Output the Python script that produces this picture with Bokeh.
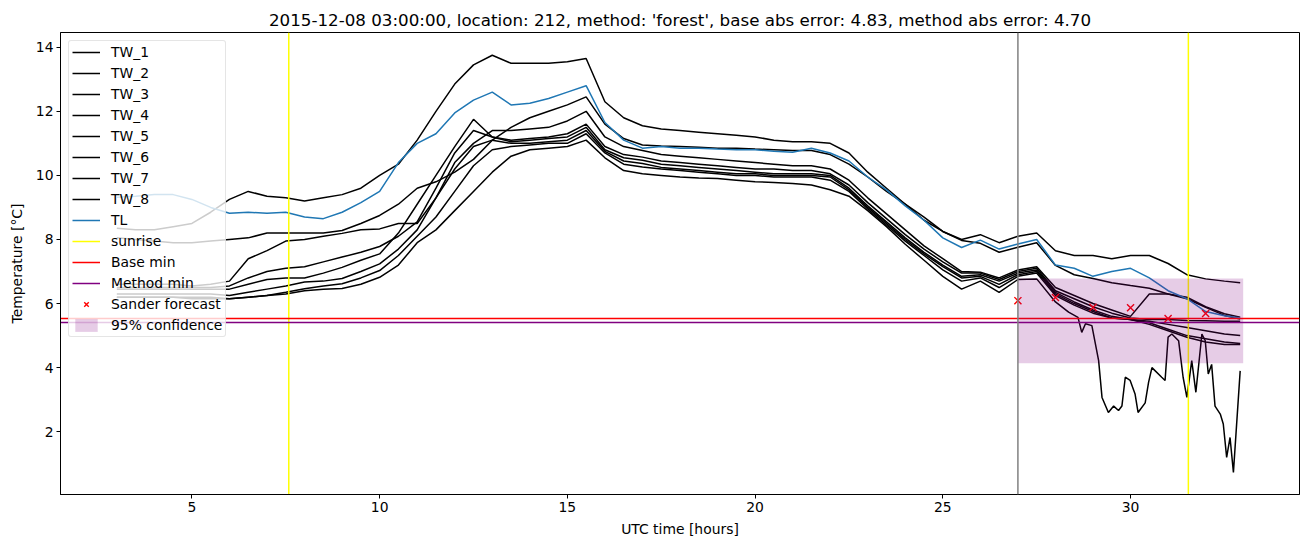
from bokeh.plotting import figure
from bokeh.models import Span, Legend, LegendItem, FixedTicker, Range1d
from bokeh.embed import file_html
from bokeh.resources import INLINE

# ---------------- data ----------------
hours = [3.0, 3.5, 4.0, 4.5, 5.0, 5.5, 6.0, 6.5, 7.0, 7.5, 8.0, 8.5, 9.0, 9.5, 10.0, 10.5,
         11.0, 11.5, 12.0, 12.5, 13.0, 13.5, 14.0, 14.5, 15.0, 15.5, 16.0, 16.5, 17.0, 17.5,
         18.0, 18.5, 19.0, 19.5, 20.0, 20.5, 21.0, 21.5, 22.0, 22.5, 23.0, 23.5, 24.0, 24.5,
         25.0, 25.5, 26.0, 26.5, 27.0, 27.5, 28.0, 28.5, 29.0, 29.5, 30.0, 30.5, 31.0, 31.5,
         32.0, 32.5, 32.92]

tw_1 = [8.35, 8.3, 8.3, 8.4, 8.5, 8.85, 9.25, 9.5, 9.35, 9.3, 9.2, 9.3, 9.4, 9.6, 10.0, 10.35,
        11.1, 12.0, 12.85, 13.45, 13.75, 13.5, 13.5, 13.5, 13.55, 13.65, 12.3, 11.8, 11.55, 11.45,
        11.4, 11.35, 11.3, 11.25, 11.2, 11.1, 11.05, 11.05, 11.0, 10.7, 10.1, 9.6, 9.1, 8.6,
        8.25, 8.0, 8.15, 7.9, 8.1, 8.2, 7.65, 7.5, 7.5, 7.4, 7.5, 7.5, 7.25, 6.9,
        6.77, 6.7, 6.65]

tw_2 = [8.05, 8.0, 7.95, 7.9, 7.9, 7.95, 8.0, 8.05, 8.2, 8.2, 8.2, 8.2, 8.28, 8.5, 8.75, 9.1,
        9.6, 9.8, 10.1, 10.5, 11.1, 11.5, 11.8, 12.0, 12.2, 12.45, 11.6, 11.15, 10.95, 10.92,
        10.9, 10.88, 10.85, 10.85, 10.82, 10.8, 10.78, 10.78, 10.65, 10.35, 9.95, 9.5, 9.1, 8.7,
        8.25, 7.97, 7.88, 7.6, 7.76, 7.9, 7.19, 6.9, 6.78, 6.65, 6.56, 6.48, 6.3, 6.2,
        5.9, 5.68, 5.57]

tw_3 = [6.6, 6.6, 6.6, 6.6, 6.55, 6.6, 6.7, 7.4, 7.65, 7.95, 8.0, 8.1, 8.19, 8.3, 8.33, 8.5,
        8.5, 9.3, 10.4, 11.0, 11.4, 11.4, 11.45, 11.5, 11.7, 12.0, 11.2, 10.9, 10.78, 10.65,
        10.6, 10.55, 10.5, 10.45, 10.4, 10.35, 10.3, 10.3, 10.2, 9.85, 9.3, 8.8, 8.3, 7.8,
        7.4, 7.0, 6.98, 6.8, 7.05, 7.15, 6.5, 6.25, 6.0, 5.8, 5.6, 6.3, 6.3, 6.15,
        5.88, 5.63, 5.52]

tw_4 = [6.5, 6.5, 6.5, 6.5, 6.5, 6.5, 6.55, 6.8, 7.0, 7.1, 7.15, 7.3, 7.45, 7.6, 7.78, 8.1,
        8.55, 9.6, 10.7, 11.4, 11.2, 11.1, 11.15, 11.2, 11.3, 11.6, 10.9, 10.65, 10.57, 10.45,
        10.4, 10.35, 10.3, 10.25, 10.2, 10.2, 10.15, 10.15, 10.05, 9.7, 9.15, 8.65, 8.15, 7.7,
        7.3, 6.95, 6.95, 6.75, 7.0, 7.1, 6.4, 6.15, 5.9, 5.7, 5.55, 5.5, 5.5, 5.47,
        5.46, 5.45, 5.45]

tw_5 = [6.45, 6.45, 6.45, 6.45, 6.45, 6.45, 6.45, 6.6, 6.75, 6.8, 6.8, 6.95, 7.13, 7.35, 7.55, 8.2,
        9.1, 10.0, 10.9, 11.75, 11.2, 11.05, 11.1, 11.15, 11.2, 11.5, 10.8, 10.55, 10.47, 10.35,
        10.3, 10.25, 10.2, 10.15, 10.1, 10.05, 10.05, 10.05, 10.0, 9.6, 9.05, 8.55, 8.05, 7.6,
        7.2, 6.85, 6.9, 6.7, 6.95, 7.05, 6.35, 6.05, 5.8, 5.6, 5.5, 5.45, 5.35, 5.25,
        5.15, 5.05, 5.0]

tw_6 = [6.3, 6.3, 6.3, 6.3, 6.3, 6.3, 6.25, 6.35, 6.45, 6.55, 6.67, 6.7, 6.78, 7.0, 7.24, 7.7,
        8.3, 9.3, 10.2, 10.9, 11.1, 11.0, 11.0, 11.05, 11.1, 11.4, 10.75, 10.45, 10.37, 10.25,
        10.2, 10.15, 10.1, 10.05, 10.05, 10.0, 10.0, 10.0, 9.95, 9.55, 9.0, 8.5, 8.0, 7.55,
        7.15, 6.8, 6.85, 6.6, 6.9, 7.0, 6.3, 6.0, 5.75, 5.55, 5.5, 5.4, 5.2, 5.0,
        4.9, 4.8, 4.75]

tw_7 = [6.2, 6.2, 6.2, 6.2, 6.2, 6.2, 6.15, 6.2, 6.25, 6.35, 6.46, 6.55, 6.62, 6.8, 7.03, 7.5,
        8.1, 8.7, 9.5, 10.3, 10.8, 10.9, 10.95, 11.0, 11.0, 11.3, 10.7, 10.35, 10.26, 10.2,
        10.15, 10.1, 10.05, 10.0, 10.0, 9.95, 9.95, 9.95, 9.85, 9.5, 8.95, 8.45, 7.95, 7.5,
        7.05, 6.7, 6.8, 6.5, 6.85, 6.95, 6.25, 5.95, 5.7, 5.55, 5.5, 5.35, 5.15, 4.95,
        4.8, 4.72, 4.72]

# TW_8: same half-hour grid up to 28 h, then a finer, noisy tail
tw_8_head = [6.2, 6.2, 6.2, 6.2, 6.15, 6.15, 6.15, 6.2, 6.25, 6.3, 6.4, 6.45, 6.47, 6.6, 6.82, 7.2,
             7.9, 8.3, 8.9, 9.5, 10.1, 10.6, 10.8, 10.85, 10.9, 11.1, 10.55, 10.15, 10.05, 10.0,
             9.95, 9.92, 9.9, 9.85, 9.8, 9.78, 9.75, 9.7, 9.55, 9.35, 8.9, 8.4, 7.85, 7.35,
             6.85, 6.45, 6.7, 6.35, 6.75, 6.77, 6.05]
tw_8_tail_hours = [28.35, 28.6, 28.7, 28.8, 28.97, 29.15, 29.24, 29.41, 29.55, 29.68, 29.77,
                   29.86, 29.99, 30.12, 30.2, 30.39, 30.48, 30.57, 30.83, 30.92, 31.0, 31.1,
                   31.28, 31.4, 31.5, 31.63, 31.74, 31.9, 31.99, 32.07, 32.16, 32.25, 32.39,
                   32.47, 32.56, 32.65, 32.74, 32.92]
tw_8_tail = [5.73, 5.57, 5.1, 5.37, 5.31, 4.22, 3.07, 2.6, 2.8, 2.66, 2.8,
             3.7, 3.6, 3.18, 2.6, 2.9, 3.54, 4.0, 3.7, 3.6, 4.95, 5.05,
             4.84, 3.7, 3.07, 4.22, 3.23, 5.05, 4.84, 3.8, 4.1, 2.8, 2.55,
             2.24, 1.2, 1.82, 0.73, 3.9]

tl = [9.32, 9.35, 9.4, 9.4, 9.25, 9.0, 8.82, 8.85, 8.82, 8.85, 8.7, 8.65, 8.85, 9.15, 9.5, 10.4,
      11.0, 11.3, 11.95, 12.35, 12.6, 12.2, 12.25, 12.4, 12.6, 12.8, 11.65, 11.1, 10.85, 10.9,
      10.85, 10.85, 10.82, 10.8, 10.8, 10.75, 10.72, 10.85, 10.7, 10.45, 9.95, 9.55, 9.05, 8.6,
      8.05, 7.75, 7.98, 7.7, 7.86, 8.0, 7.2, 7.1, 6.85, 7.0, 7.1, 6.8, 6.4, 6.15,
      5.75, 5.62, 5.55]

sunrise_hours = [7.58, 31.54]
forecast_start_hour = 27.0
base_min = 5.53
method_min = 5.41
forecast_hours = [27, 28, 29, 30, 31, 32]
forecast_temps = [6.09, 6.19, 5.88, 5.87, 5.53, 5.69]
conf_hours = [27.0, 33.0]
conf_low = [4.14, 4.14]
conf_high = [6.78, 6.78]

x_ticks = [5, 10, 15, 20, 25, 30]
y_ticks = [2, 4, 6, 8, 10, 12, 14]

title_text = ("2015-12-08 03:00:00, location: 212, method: 'forest', "
              "base abs error: 4.83, method abs error: 4.70")

FONT = "DejaVu Sans"
X_LO, X_HI = 1.5, 34.5
Y_LO, Y_HI = 0.04, 14.46

# ---------------- figure ----------------
p = figure(width=1300, height=540, output_backend="svg", toolbar_location=None,
           x_range=Range1d(X_LO, X_HI), y_range=Range1d(Y_LO, Y_HI),
           min_border_left=60, min_border_right=1, min_border_bottom=46, min_border_top=32,
           title=title_text)
p.title.align = "center"
p.title.vertical_align = "middle"
p.title.text_font = FONT
p.title.text_font_size = "16.7px"
p.title.text_font_style = "normal"
p.title.text_color = "black"
p.title.standoff = 4
p.grid.visible = False
p.outline_line_color = "black"
p.outline_line_width = 1
p.background_fill_color = "white"
p.border_fill_color = "white"

for ax in (p.xaxis, p.yaxis):
    ax.axis_line_color = "black"
    ax.major_tick_line_color = "black"
    ax.major_tick_out = 4
    ax.major_tick_in = 0
    ax.minor_tick_line_color = None
    ax.major_label_text_font = FONT
    ax.major_label_text_font_size = "13.9px"
    ax.major_label_text_color = "black"
    ax.axis_label_text_font = FONT
    ax.axis_label_text_font_size = "13.9px"
    ax.axis_label_text_font_style = "normal"
    ax.axis_label_text_color = "black"
    ax.major_label_standoff = 3
p.xaxis.ticker = FixedTicker(ticks=x_ticks)
p.yaxis.ticker = FixedTicker(ticks=y_ticks)
p.xaxis.axis_label = "UTC time [hours]"
p.yaxis.axis_label = "Temperature [°C]"
p.xaxis.axis_label_standoff = 6
p.yaxis.axis_label_standoff = 8

tw_series = [tw_1, tw_2, tw_3, tw_4, tw_5, tw_6, tw_7]
items = []
for i, vals in enumerate(tw_series):
    r = p.line(hours, vals, line_color="black", line_width=1.5)
    items.append(LegendItem(label=f"TW_{i + 1}", renderers=[r]))
tw8_hours = hours[:len(tw_8_head)] + tw_8_tail_hours
tw8_vals = tw_8_head + tw_8_tail
r8 = p.line(tw8_hours, tw8_vals, line_color="black", line_width=1.5)
items.append(LegendItem(label="TW_8", renderers=[r8]))

r_tl = p.line(hours, tl, line_color="#1f77b4", line_width=1.5)
items.append(LegendItem(label="TL", renderers=[r_tl]))

# sunrise: vertical lines spanning the whole y range
r_sun = p.multi_line(xs=[[h, h] for h in sunrise_hours],
                     ys=[[Y_LO, Y_HI] for _ in sunrise_hours],
                     line_color="yellow", line_width=1.5)
items.append(LegendItem(label="sunrise", renderers=[r_sun]))

p.add_layout(Span(location=forecast_start_hour, dimension="height",
                  line_color="gray", line_width=1.5))

r_base = p.line([X_LO, X_HI], [base_min, base_min], line_color="red", line_width=1.5)
r_meth = p.line([X_LO, X_HI], [method_min, method_min], line_color="purple", line_width=1.5)
items.append(LegendItem(label="Base min", renderers=[r_base]))
items.append(LegendItem(label="Method min", renderers=[r_meth]))

r_fc = p.scatter(forecast_hours, forecast_temps, marker="x", size=10,
                 line_color="red", line_width=1.4)
items.append(LegendItem(label="Sander forecast", renderers=[r_fc]))

r_conf = p.varea(x=conf_hours, y1=conf_low, y2=conf_high, fill_color="purple", fill_alpha=0.2)
items.append(LegendItem(label="95% confidence", renderers=[r_conf]))

legend = Legend(items=items, location="top_left")
legend.margin = 8
legend.padding = 3
legend.spacing = 5
legend.glyph_width = 28
legend.glyph_height = 16
legend.label_height = 16
legend.label_standoff = 11
legend.label_text_font = FONT
legend.label_text_font_size = "13.9px"
legend.label_text_color = "black"
legend.border_line_color = "#cccccc"
legend.border_line_width = 1
legend.background_fill_color = "white"
legend.background_fill_alpha = 0.8
try:
    legend.border_radius = 3
except Exception:
    pass
p.add_layout(legend)

open("out.html", "w").write(file_html(p, INLINE))
